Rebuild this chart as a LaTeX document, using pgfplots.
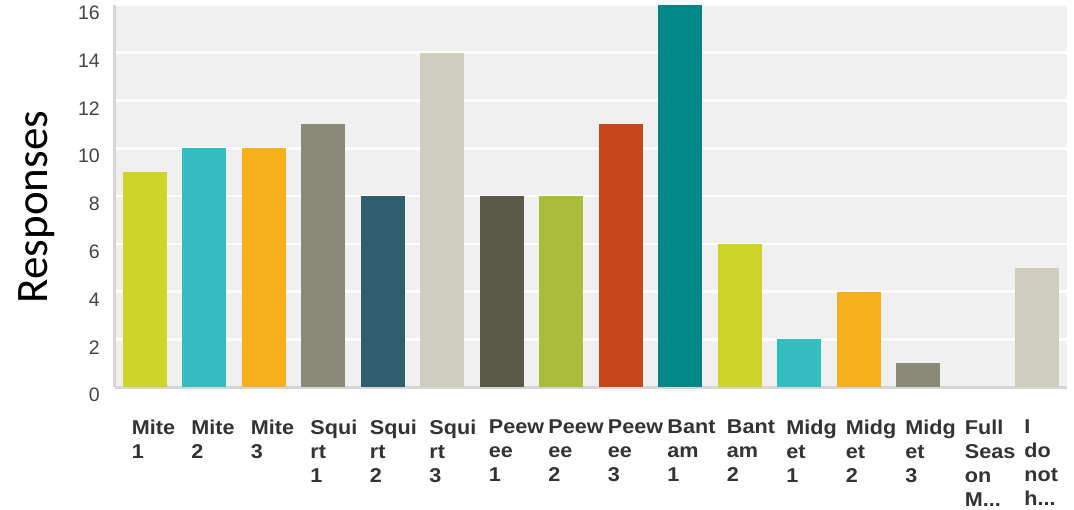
\documentclass[border=0pt]{standalone}
\usepackage{pgfplots}
\pgfplotsset{compat=1.18}
\usepackage{fontspec}
\setmainfont{Liberation Sans}
\newfontfamily\titlefont{Carlito}
\newfontfamily\catfont{Liberation Sans}[FakeStretch=1.08]

\definecolor{plotbg}{HTML}{F0F0F0}
\definecolor{axisgray}{HTML}{D6D6D6}
\definecolor{ticktext}{HTML}{444444}
\definecolor{cattext}{HTML}{333333}
\definecolor{cLime}{HTML}{CFD42A}
\definecolor{cAqua}{HTML}{33BDBF}
\definecolor{cAmber}{HTML}{F7AF1E}
\definecolor{cStone}{HTML}{8A8A78}
\definecolor{cSlate}{HTML}{2F5F6D}
\definecolor{cSand}{HTML}{CFCDBF}
\definecolor{cUmber}{HTML}{5B5A4A}
\definecolor{cOlive}{HTML}{AABD3A}
\definecolor{cRust}{HTML}{C8461C}
\definecolor{cTeal}{HTML}{008888}

% three dots, kept apart so the tick-label list parser leaves them alone
\newcommand{\trunc}{.{}.{}.}

\pgfplotsset{
  onebar/.style={ybar, bar width=44pt, bar shift=0pt, draw=none, fill=#1},
}

\begin{document}
\begin{tikzpicture}
\begin{axis}[
  scale only axis,
  width=952pt, height=382pt,
  xmin=-0.5, xmax=15.5,
  ymin=0, ymax=16,
  axis background/.style={fill=plotbg},
  axis x line*=bottom, axis y line*=left,
  axis line style={draw=axisgray, line width=3pt},
  major tick length=0pt,
  ymajorgrids,
  grid style={white, line width=2.5pt},
  ytick={0,2,...,16},
  /pgf/number format/assume math mode=true,
  yticklabel style={font=\fontsize{19.5}{23}\selectfont, text=ticktext,
    inner sep=0pt, anchor=east, xshift=-15pt, yshift=-8pt},
  xtick={0,...,15},
  xticklabels={{Mite\\1},{Mite\\2},{Mite\\3},{Squi\\rt\\1},{Squi\\rt\\2},{Squi\\rt\\3},
    {Peew\\ee\\1},{Peew\\ee\\2},{Peew\\ee\\3},{Bant\\am\\1},{Bant\\am\\2},
    {Midg\\et\\1},{Midg\\et\\2},{Midg\\et\\3},{Full\\Seas\\on\\M\trunc},{I\\do\\not\\h\trunc}},
  xticklabel style={font=\catfont\bfseries\fontsize{20}{24}\selectfont, text=cattext,
    align=left, anchor=north west, inner sep=0pt, xshift=-13pt, yshift=-33pt},
  ylabel={Responses},
  every axis y label/.style={at={(axis description cs:-0.082,0.471)},
    rotate=90, anchor=center, font=\titlefont\fontsize{45}{50}\selectfont},
]
\addplot[onebar=cLime]  coordinates {(0,9)};
\addplot[onebar=cAqua]  coordinates {(1,10)};
\addplot[onebar=cAmber] coordinates {(2,10)};
\addplot[onebar=cStone] coordinates {(3,11)};
\addplot[onebar=cSlate] coordinates {(4,8)};
\addplot[onebar=cSand]  coordinates {(5,14)};
\addplot[onebar=cUmber] coordinates {(6,8)};
\addplot[onebar=cOlive] coordinates {(7,8)};
\addplot[onebar=cRust]  coordinates {(8,11)};
\addplot[onebar=cTeal]  coordinates {(9,16)};
\addplot[onebar=cLime]  coordinates {(10,6)};
\addplot[onebar=cAqua]  coordinates {(11,2)};
\addplot[onebar=cAmber] coordinates {(12,4)};
\addplot[onebar=cStone] coordinates {(13,1)};
% Full Season on M...: 0 responses, so no bar is drawn at x = 14
\addplot[onebar=cSand]  coordinates {(15,5)};
\end{axis}
\pgfresetboundingbox
\path ([shift={(-115pt,-122pt)}]current axis.south west)
  rectangle ([shift={(7pt,5pt)}]current axis.north east);
\end{tikzpicture}
\end{document}
